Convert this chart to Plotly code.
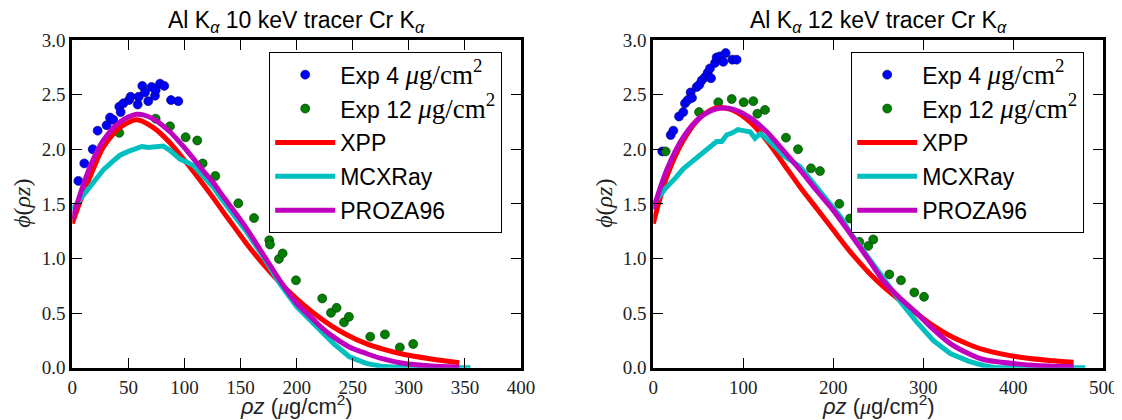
import plotly.graph_objects as go

# ---------------- data: Al K-alpha 10 keV (left) ----------------
exp4_10_x = [5.4, 10.7, 18.2, 22.6, 30.6, 33.6, 36.5, 41.9, 43.1, 45.5, 50.5, 52.0, 58.3, 59.2,
             62.4, 64.8, 67.7, 70.7, 73.7, 74.3, 78.2, 82.0, 88.0, 94.5]
exp4_10_y = [1.71, 1.87, 2.00, 2.17, 2.22, 2.29, 2.27, 2.39, 2.34, 2.42, 2.45, 2.48, 2.41, 2.48,
             2.58, 2.52, 2.44, 2.57, 2.49, 2.54, 2.60, 2.58, 2.45, 2.44]

exp12_10_x = [41.9, 74.3, 87.1, 101.0, 111.4, 116.2, 127.5, 148.0, 162.0, 175.6, 176.2, 184.2,
              187.5, 199.4, 222.8, 230.6, 235.6, 242.2, 246.6, 265.6, 278.7, 292.0, 303.9]
exp12_10_y = [2.15, 2.28, 2.21, 2.11, 2.08, 1.87, 1.755, 1.505, 1.37, 1.167, 1.128, 0.996,
              1.046, 0.80, 0.634, 0.503, 0.548, 0.415, 0.466, 0.284, 0.305, 0.186, 0.217]

xpp_10_x = [0, 8, 15.8, 27.6, 42.5, 57.4, 72, 87, 96, 102, 117, 126, 135, 145, 155, 170, 185,
            200, 215, 230, 245, 262, 277, 292, 320, 345]
xpp_10_y = [1.32, 1.55, 1.746, 2.02, 2.20, 2.27, 2.20, 2.06, 1.95, 1.875, 1.675, 1.55, 1.42, 1.28,
            1.14, 0.95, 0.78, 0.63, 0.50, 0.39, 0.30, 0.22, 0.17, 0.13, 0.08, 0.046]

mcx_10_x = [0, 3.9, 10, 15.8, 22, 27.6, 35, 42.5, 50, 57.4, 62, 68, 72, 76, 81, 87, 92, 96, 102,
            108, 117, 126, 132, 146, 155, 170, 185, 200, 215, 233, 247, 262, 277, 300, 355]
mcx_10_y = [1.45, 1.50, 1.58, 1.67, 1.74, 1.81, 1.88, 1.945, 1.98, 2.015, 2.025, 2.015, 2.02,
            2.025, 2.03, 1.99, 1.95, 1.91, 1.88, 1.85, 1.75, 1.65, 1.56, 1.38, 1.25, 1.02, 0.77,
            0.56, 0.41, 0.22, 0.10, 0.04, 0.01, 0.0, 0.0]

proza_10_x = [0, 8, 15.8, 27.6, 42.5, 57.4, 72, 87, 96, 102, 117, 126, 135, 146, 155, 170, 185,
              200, 215, 222, 233, 247, 262, 277, 292, 320, 345]
proza_10_y = [1.36, 1.62, 1.84, 2.08, 2.25, 2.32, 2.28, 2.16, 2.06, 1.99, 1.80, 1.69, 1.56, 1.41,
              1.28, 1.04, 0.80, 0.59, 0.44, 0.37, 0.28, 0.19, 0.13, 0.08, 0.046, 0.015, 0.005]

# ---------------- data: Al K-alpha 12 keV (right) ----------------
exp4_12_x = [10.0, 19.3, 22.2, 28.6, 33.3, 35.2, 38.2, 41.5, 43.0, 48.2, 51.1, 53.8, 57.4, 60.4,
             63.0, 64.1, 68.6, 70.4, 74.1, 77.8, 80.4, 87.8, 92.6]
exp4_12_y = [1.98, 2.13, 2.17, 2.30, 2.34, 2.42, 2.45, 2.52, 2.47, 2.57, 2.59, 2.63, 2.66, 2.70,
             2.74, 2.65, 2.79, 2.84, 2.85, 2.80, 2.88, 2.82, 2.82]

exp12_12_x = [13.7, 50.8, 72.2, 87.1, 100.4, 111.1, 115.6, 124.1, 147.4, 160.8, 175.2, 185.2,
              206.7, 218.6, 228.9, 238.9, 244.4, 262.2, 275.2, 290.0, 300.8]
exp12_12_y = [1.98, 2.34, 2.43, 2.46, 2.43, 2.44, 2.325, 2.36, 2.106, 2.0, 1.825, 1.80, 1.50,
              1.366, 1.152, 1.115, 1.174, 0.854, 0.80, 0.689, 0.649]

xpp_12_x = [0, 14.9, 33.3, 51.9, 70.4, 88.9, 107.4, 126, 144.4, 163, 181.6, 200, 218, 230, 240,
            256, 275, 292, 310, 330, 350, 367, 404, 440, 467]
xpp_12_y = [1.32, 1.746, 2.08, 2.29, 2.38, 2.355, 2.25, 2.08, 1.87, 1.655, 1.457, 1.26, 1.07,
            0.955, 0.865, 0.74, 0.61, 0.50, 0.39, 0.29, 0.215, 0.165, 0.10, 0.066, 0.049]

mcx_12_x = [0, 14.9, 25, 33.3, 42, 51.9, 62, 70.4, 76, 81.5, 88, 94.1, 100, 107.4, 113, 118.5,
            124, 129.6, 137, 144.4, 152, 163, 172, 181.6, 190, 200, 209, 218.5, 230, 240, 256,
            275, 292.6, 311, 330, 350, 367, 380, 420, 480]
mcx_12_y = [1.50, 1.655, 1.74, 1.82, 1.88, 1.945, 2.02, 2.07, 2.07, 2.13, 2.15, 2.18, 2.17, 2.16,
            2.10, 2.14, 2.11, 2.07, 2.01, 1.945, 1.90, 1.84, 1.75, 1.655, 1.57, 1.47, 1.37, 1.24,
            1.11, 0.99, 0.80, 0.60, 0.42, 0.25, 0.13, 0.06, 0.02, 0.0, 0.0, 0.0]

proza_12_x = [0, 14.9, 33.3, 51.9, 70.4, 88.9, 107.4, 126, 144.4, 163, 181.6, 200, 218.5, 240,
              256, 275, 292.6, 310, 330, 350, 367, 404, 440, 467]
proza_12_y = [1.45, 1.81, 2.11, 2.29, 2.37, 2.365, 2.29, 2.16, 1.99, 1.81, 1.62, 1.44, 1.23,
              0.98, 0.79, 0.63, 0.50, 0.36, 0.22, 0.13, 0.075, 0.035, 0.015, 0.01]

titles = ["Al K<sub><i>α</i></sub> 10 keV tracer Cr K<sub><i>α</i></sub>",
          "Al K<sub><i>α</i></sub> 12 keV tracer Cr K<sub><i>α</i></sub>"]
x_ranges = [[0, 400], [0, 500]]
x_dticks = [50, 100]
y_ticks = [0.0, 0.5, 1.0, 1.5, 2.0, 2.5, 3.0]

SERIF = "Liberation Serif"
SANS = "Liberation Sans"
BLUE, GREEN, RED, CYAN, MAG = "#0000FF", "#007F00", "#FF0000", "#00BFBF", "#BF00BF"
unit = "<span style='font-family:Liberation Serif;font-size:27px'><i>μ</i>g/cm<sup>2</sup></span>"

fig = go.Figure()

panels = [
    (exp4_10_x, exp4_10_y, exp12_10_x, exp12_10_y, xpp_10_x, xpp_10_y, mcx_10_x, mcx_10_y,
     proza_10_x, proza_10_y),
    (exp4_12_x, exp4_12_y, exp12_12_x, exp12_12_y, xpp_12_x, xpp_12_y, mcx_12_x, mcx_12_y,
     proza_12_x, proza_12_y),
]

for i, p in enumerate(panels):
    xa = "x" if i == 0 else "x2"
    ya = "y" if i == 0 else "y2"
    lg = "legend" if i == 0 else "legend2"
    e4x, e4y, e12x, e12y, xx, xy, mx, my, px, py = p
    fig.add_trace(go.Scatter(x=e4x, y=e4y, mode="markers", name="Exp 4 " + unit,
                             marker=dict(color=BLUE, size=9, line=dict(color="#000060", width=0.6)),
                             xaxis=xa, yaxis=ya, legend=lg, legendgroup="a%d" % i))
    fig.add_trace(go.Scatter(x=e12x, y=e12y, mode="markers", name="Exp 12 " + unit,
                             marker=dict(color=GREEN, size=9, line=dict(color="#003000", width=0.6)),
                             xaxis=xa, yaxis=ya, legend=lg, legendgroup="b%d" % i))
    fig.add_trace(go.Scatter(x=xx, y=xy, mode="lines", name="XPP",
                             line=dict(color=RED, width=5, shape="spline", smoothing=0.8),
                             xaxis=xa, yaxis=ya, legend=lg, legendgroup="c%d" % i))
    fig.add_trace(go.Scatter(x=mx, y=my, mode="lines", name="MCXRay",
                             line=dict(color=CYAN, width=5),
                             xaxis=xa, yaxis=ya, legend=lg, legendgroup="d%d" % i))
    fig.add_trace(go.Scatter(x=px, y=py, mode="lines", name="PROZA96",
                             line=dict(color=MAG, width=5, shape="spline", smoothing=0.8),
                             xaxis=xa, yaxis=ya, legend=lg, legendgroup="e%d" % i))

# the page body has an 8px margin: work in page pixels and shift by it
OFF = 8
W, H = 1122 - OFF, 420 - OFF


def px_x(p):
    return (p - OFF) / W


def px_y(p):
    return 1 - (p - OFF) / H


x_doms = [[px_x(72.3), px_x(521.0)], [px_x(653.3), px_x(1103.3)]]
y_dom = [px_y(367.7), px_y(40.0)]

axis_common = dict(showline=True, linewidth=3, linecolor="black", mirror="ticks",
                   ticks="inside", ticklen=10, tickwidth=1, tickcolor="black",
                   showgrid=False, zeroline=False, automargin=False,
                   tickfont=dict(family=SERIF, size=19, color="#222"))

for i in range(2):
    sx = "" if i == 0 else "2"
    fig.layout["xaxis" + sx] = dict(axis_common, domain=x_doms[i], range=x_ranges[i],
                                    tick0=0, dtick=x_dticks[i], anchor="y" + sx)
    fig.layout["yaxis" + sx] = dict(axis_common, domain=y_dom, range=[0, 3],
                                    tickvals=y_ticks, ticktext=["%.1f" % v for v in y_ticks],
                                    anchor="x" + sx)
    cx = (x_doms[i][0] + x_doms[i][1]) / 2
    fig.add_annotation(text=titles[i], x=cx, y=px_y(22), xref="paper", yref="paper",
                       showarrow=False, xanchor="center", yanchor="middle",
                       font=dict(family=SANS, size=23, color="black"))
    fig.add_annotation(text="<i>ρz</i> (<span style='font-family:Liberation Serif'><i>μ</i></span>g/cm<sup>2</sup>)",
                       x=cx, y=px_y(405), xref="paper", yref="paper",
                       showarrow=False, xanchor="center", yanchor="middle",
                       font=dict(family=SANS, size=22, color="#222"))
    ylx = px_x(22 if i == 0 else 604)
    fig.add_annotation(text="<i>ϕ</i>(<i>ρz</i>)", x=ylx, y=(y_dom[0] + y_dom[1]) / 2,
                       xref="paper", yref="paper", showarrow=False, textangle=-90,
                       xanchor="center", yanchor="middle",
                       font=dict(family=SERIF, size=24, color="#222"))

legend_common = dict(bgcolor="white", bordercolor="black", borderwidth=1.2,
                     font=dict(family=SANS, size=23, color="black"),
                     xanchor="left", yanchor="top", tracegroupgap=1, itemwidth=60,
                     traceorder="grouped")
fig.update_layout(
    width=W, height=H, margin=dict(l=0, r=0, t=0, b=0),
    paper_bgcolor="white", plot_bgcolor="white",
    legend=dict(legend_common, x=px_x(269), y=px_y(52)),
    legend2=dict(legend_common, x=px_x(851), y=px_y(52)),
)

fig.write_html("out.html")
